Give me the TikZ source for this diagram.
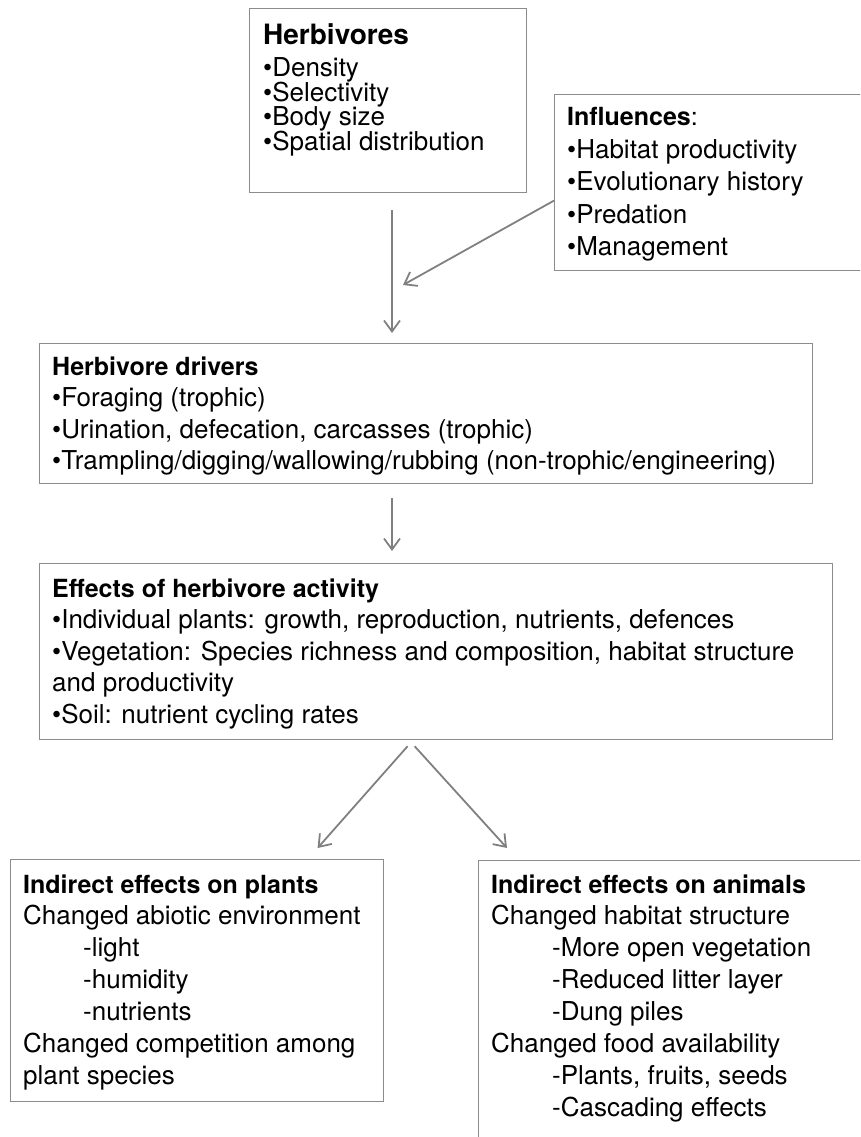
\documentclass[tikz,border=0pt]{standalone}
\usepackage{fontspec}
\setmainfont{TeX Gyre Heros}
\usetikzlibrary{arrows.meta}
\definecolor{edgegray}{HTML}{8C8C8C}
\definecolor{arrowgray}{HTML}{808080}
\tikzset{
  box/.style={draw=edgegray, line width=1.2pt, rectangle, anchor=north west, inner sep=0pt},
  item/.style={anchor=base west, inner sep=0pt, font=\fontsize{26}{31}\selectfont},
  ttl/.style={anchor=base west, inner sep=0pt, font=\fontsize{25}{30}\selectfont\bfseries},
  arr/.style={draw=arrowgray, line width=1.8pt, -{Straight Barb[length=11pt,width=16pt,line width=1.8pt]}},
}
\begin{document}
\begin{tikzpicture}[x=1pt,y=-1pt]
\useasboundingbox (0,0) rectangle (860,1137);
\clip (0,0) rectangle (860,1137);
\coordinate (colA) at (392,0);

% Herbivores
\node[box, minimum width=277pt, minimum height=184pt] (herb) at (249,8) {};
\node[ttl, font=\fontsize{28}{33}\selectfont\bfseries] (herbT) at (263,45) {Herbivores};
\node[item] (herb1) at (263,77) {•Density};
\node[item] (herb2) at (263,101.5) {•Selectivity};
\node[item] (herb3) at (263,126) {•Body size};
\node[item] (herb4) at (263,150.5) {•Spatial distribution};

% Influences
\node[box, minimum width=330pt, minimum height=176pt] (infl) at (554,94) {};
\node[ttl] (inflT) at (567,125) {Influences{\mdseries :}};
\node[item] (infl1) at (567,158) {•Habitat productivity};
\node[item] (infl2) at (567,190.5) {•Evolutionary history};
\node[item] (infl3) at (567,223) {•Predation};
\node[item] (infl4) at (567,255.5) {•Management};

% Herbivore drivers
\node[box, minimum width=773pt, minimum height=140pt] (drv) at (39,343) {};
\node[ttl] (drvT) at (52,375) {Herbivore drivers};
\node[item] (drv1) at (52,406.5) {•Foraging (trophic)};
\node[item] (drv2) at (52,438) {•Urination, defecation, carcasses (trophic)};
\node[item] (drv3) at (52,469.5) {•Trampling/digging/wallowing/rubbing (non-trophic/engineering)};

% Effects
\node[box, minimum width=793pt, minimum height=176pt] (eff) at (39,563) {};
\node[ttl] (effT) at (52,597) {Effects of herbivore activity};
\node[item] (eff1) at (52,628.5) {•Individual plants: growth, reproduction, nutrients, defences};
\node[item] (eff2) at (52,660) {•Vegetation: Species richness and composition, habitat structure};
\node[item] (eff3) at (52,691.5) {and productivity};
\node[item] (eff4) at (52,723) {•Soil: nutrient cycling rates};

% Indirect effects on plants
\node[box, minimum width=373pt, minimum height=242pt] (plants) at (10,859) {};
\node[ttl] (plT) at (23,893) {Indirect effects on plants};
\node[item] (pl1) at (23,924.5) {Changed abiotic environment};
\node[item] (pl2) at (83,956.5) {-light};
\node[item] (pl3) at (83,988.5) {-humidity};
\node[item] (pl4) at (83,1020.5) {-nutrients};
\node[item] (pl5) at (23,1052.5) {Changed competition among};
\node[item] (pl6) at (23,1084.5) {plant species};

% Indirect effects on animals
\node[box, minimum width=420pt, minimum height=300pt] (anim) at (478,860) {};
\node[ttl] (anT) at (491,893) {Indirect effects on animals};
\node[item] (an1) at (491,924.5) {Changed habitat structure};
\node[item] (an2) at (552,956.5) {-More open vegetation};
\node[item] (an3) at (552,988.5) {-Reduced litter layer};
\node[item] (an4) at (552,1020.5) {-Dung piles};
\node[item] (an5) at (491,1052.5) {Changed food availability};
\node[item] (an6) at (552,1084.5) {-Plants, fruits, seeds};
\node[item] (an7) at (552,1116.5) {-Cascading effects};

% Connectors
\coordinate (a2end) at (403,285);
\draw[arr, shorten <=17pt, shorten >=10pt] (herb.south -| colA) -- (drv.north -| colA);
\draw[arr] ([yshift=-18pt]infl.west) -- (a2end);
\draw[arr, shorten <=14pt, shorten >=12pt] (drv.south -| colA) -- (eff.north -| colA);
\draw[arr] ([xshift=-28.5pt,yshift=-6pt]eff.south) -- ([xshift=120.5pt,yshift=11pt]plants.north);
\draw[arr] ([xshift=-21.5pt,yshift=-6pt]eff.south) -- ([xshift=29pt,yshift=12pt]anim.north west);
\end{tikzpicture}
\end{document}
